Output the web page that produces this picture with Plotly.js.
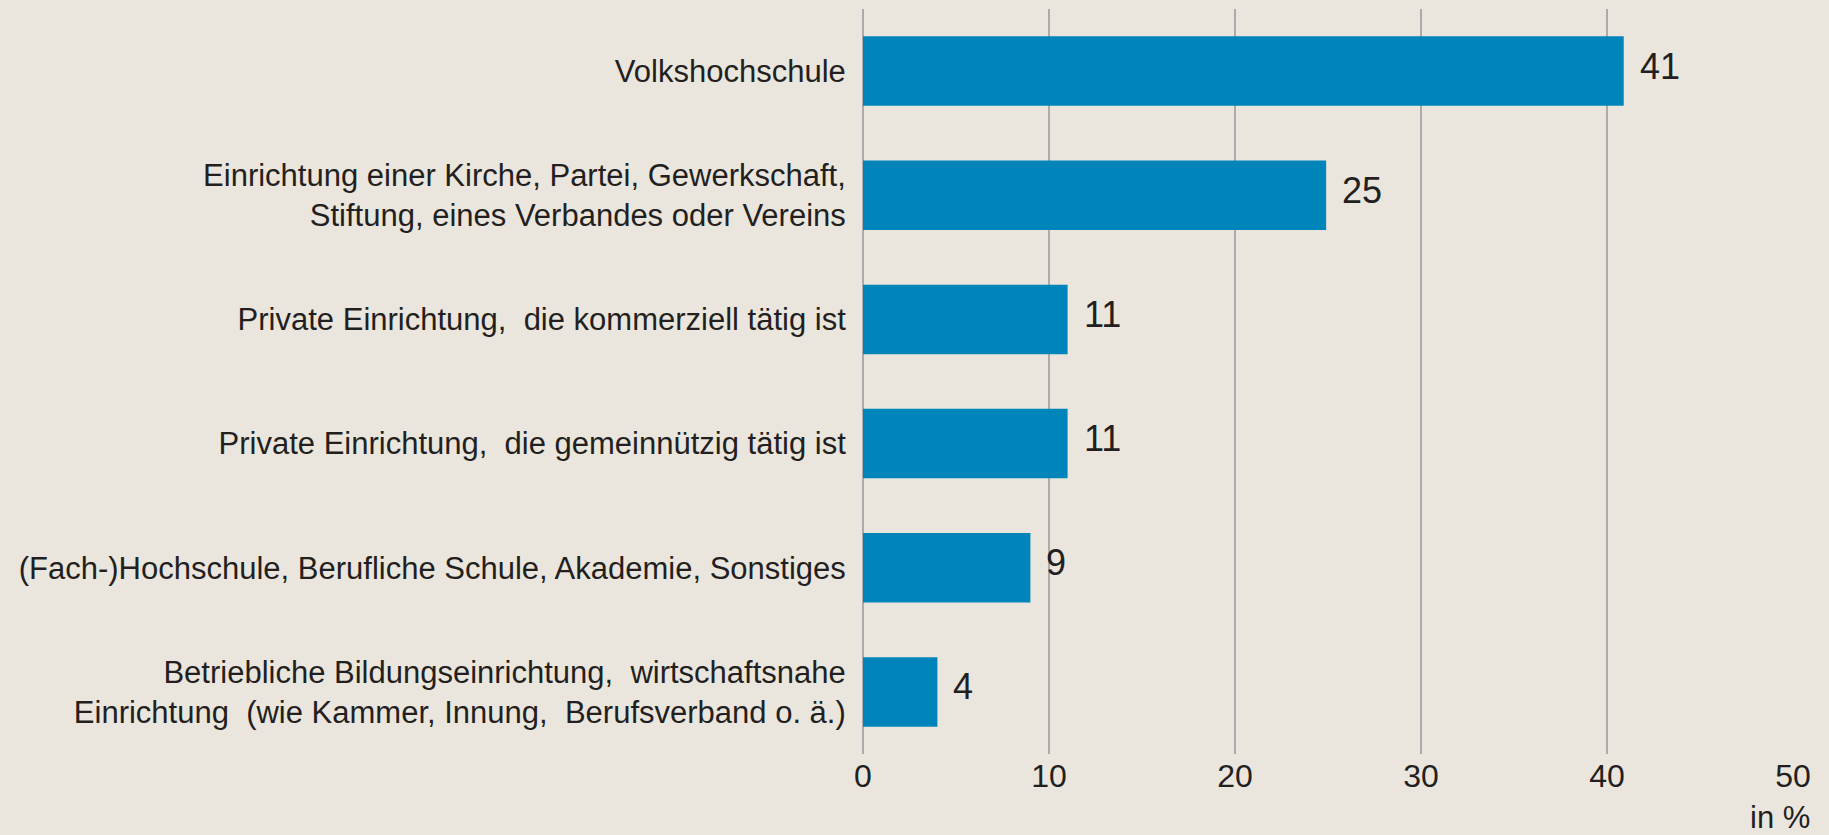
<!DOCTYPE html>
<html>
<head>
<meta charset="utf-8">
<script src="https://cdn.plot.ly/plotly-3.0.1.min.js"></script>
<style>
  html, body { margin: 0; padding: 0; background: #EAE6DD; }
  #chart { width: 1829px; height: 835px; }
</style>
</head>
<body>
<div id="chart"></div>
<script>
// Categories, top to bottom
const categories = [
  "Volkshochschule",
  "Einrichtung einer Kirche, Partei, Gewerkschaft,<br>Stiftung, eines Verbandes oder Vereins",
  "Private Einrichtung,  die kommerziell tätig ist",
  "Private Einrichtung,  die gemeinnützig tätig ist",
  "(Fach-)Hochschule, Berufliche Schule, Akademie, Sonstiges",
  "Betriebliche Bildungseinrichtung,  wirtschaftsnahe<br>Einrichtung  (wie Kammer, Innung,  Berufsverband o. ä.)"
];
// Shares in percent
const values = [40.9, 24.9, 11.0, 11.0, 9.0, 4.0];
const valueLabels = ["41", "25", "11", "11", "9", "4"];
const xTickVals = [0, 10, 20, 30, 40, 50];
const xTickText = ["0", "10", "20", "30", "40", "50"];
const unitLabel = "in %";

const family = "Liberation Sans, Arial, sans-serif";
const textColor = "#231F20";
const gridColor = "#ABABAB";

const trace = {
  type: "bar",
  orientation: "h",
  y: categories,
  x: values,
  marker: { color: "#0085BB", line: { width: 0 } },
  hoverinfo: "skip"
};

const annotations = values.map((v, i) => ({
  x: v, y: categories[i], xref: "x", yref: "y",
  text: valueLabels[i], showarrow: false,
  xanchor: "left", yanchor: "middle", xshift: 14, yshift: 5,
  font: { family: family, size: 36, color: textColor }
}));
annotations.push({
  x: 1, y: 0, xref: "paper", yref: "paper",
  text: unitLabel, showarrow: false,
  xanchor: "right", yanchor: "middle", xshift: 19, yshift: -63,
  font: { family: family, size: 31, color: textColor }
});

const layout = {
  width: 1829, height: 835,
  paper_bgcolor: "#EAE6DD",
  plot_bgcolor: "#EAE6DD",
  margin: { l: 863, r: 36, t: 9, b: 81, pad: 0 },
  bargap: 0.44,
  showlegend: false,
  xaxis: {
    range: [0, 50],
    tickvals: xTickVals,
    ticktext: xTickText,
    showgrid: true, gridcolor: gridColor, gridwidth: 2.5,
    zeroline: true, zerolinecolor: gridColor, zerolinewidth: 2.5,
    showline: false,
    ticks: "",
    tickfont: { family: family, size: 32, color: textColor },
    fixedrange: true
  },
  yaxis: {
    autorange: "reversed",
    type: "category",
    showgrid: false, zeroline: false, showline: false,
    ticks: "outside", ticklen: 10, tickcolor: "rgba(0,0,0,0)",
    tickfont: { family: family, size: 31, color: textColor },
    fixedrange: true
  },
  annotations: annotations
};

Plotly.newPlot("chart", [trace], layout, { displayModeBar: false, staticPlot: true });
</script>
</body>
</html>
